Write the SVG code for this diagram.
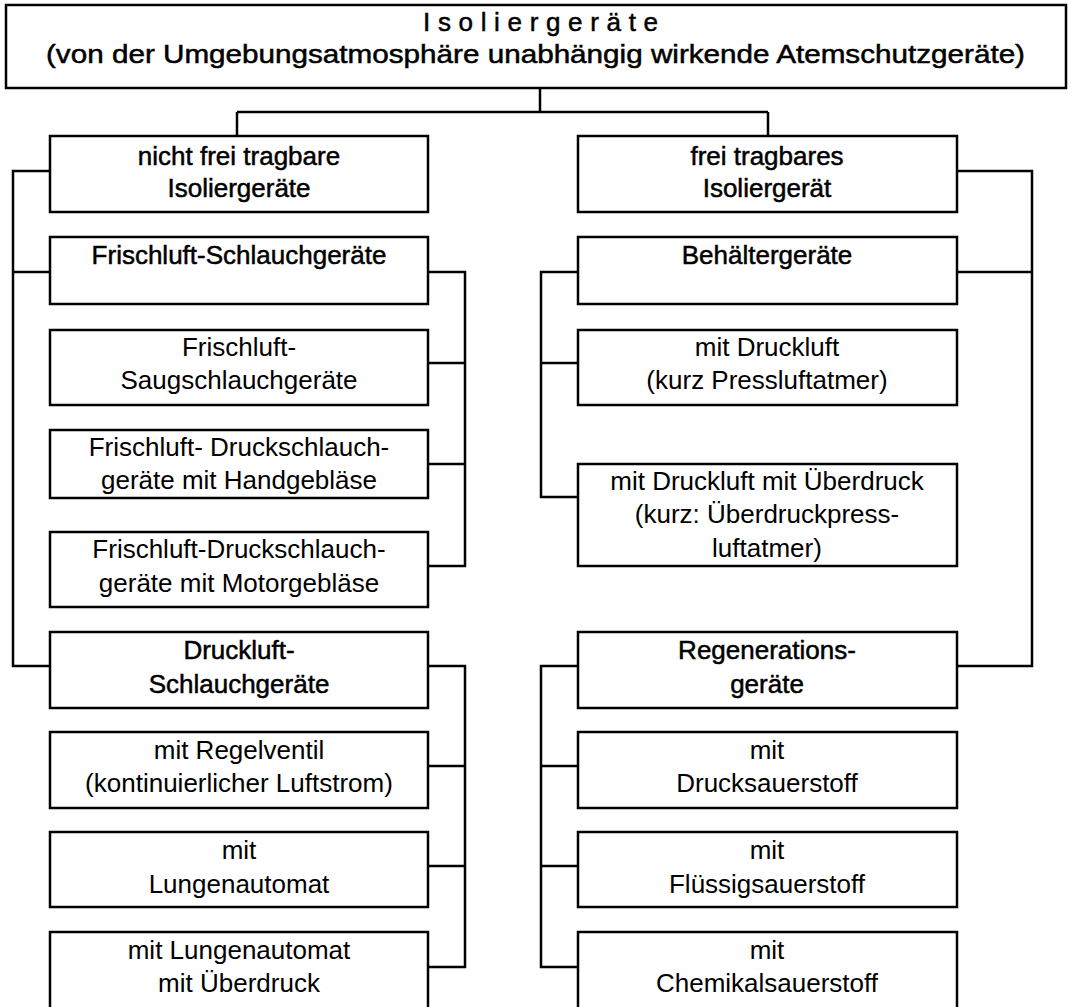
<svg xmlns="http://www.w3.org/2000/svg" width="1071" height="1007" viewBox="0 0 1071 1007">
<style>
rect{fill:#fff;stroke:#000;stroke-width:2.5}
text{font-family:"Liberation Sans",Arial,sans-serif;font-size:26px;fill:#000;text-anchor:middle}
.h{stroke:#000;stroke-width:0.5}
.t1{font-size:26px;stroke:#000;stroke-width:0.5}
.t2{font-size:26px;stroke:#000;stroke-width:0.5}
#connectors path{fill:none;stroke:#000;stroke-width:2.5}
</style>
<rect x="0" y="0" width="1071" height="1007" style="stroke:none"/>
<g id="connectors">
<path d="M540,88 V112 M237,112 H768 M237,112 V136 M768,112 V136"/>
<path d="M50,171 H13 V666 H50 M13,272 H50"/>
<path d="M428,272 H465 V566 H428 M428,363 H465 M428,464 H465"/>
<path d="M428,666 H465 V967 H428 M428,766 H465 M428,866 H465"/>
<path d="M957,171 H1032 V666 H957 M957,272 H1032"/>
<path d="M578,272 H541 V497 H578 M541,363 H578"/>
<path d="M578,666 H541 V967 H578 M541,766 H578 M541,866 H578"/>
</g>
<g id="root">
<rect x="6" y="5" width="1060" height="83"/>
<text class="t1" x="540.5" y="31" textLength="235" lengthAdjust="spacing">I s o l i e r g e r ä t e</text>
<text class="t2" x="535.5" y="63" textLength="979" lengthAdjust="spacingAndGlyphs">(von der Umgebungsatmosphäre unabhängig wirkende Atemschutzgeräte)</text>
</g>
<g id="nicht-frei">
<rect x="50" y="136" width="378" height="76"/>
<text class="h" x="239" y="165">nicht frei tragbare</text>
<text class="h" x="239" y="197">Isoliergeräte</text>
</g>
<g id="frischluft">
<rect x="50" y="237" width="378" height="67"/>
<text class="h" x="239" y="264">Frischluft-Schlauchgeräte</text>
</g>
<g id="saug">
<rect x="50" y="330" width="378" height="75"/>
<text x="239" y="356">Frischluft-</text>
<text x="239" y="389">Saugschlauchgeräte</text>
</g>
<g id="hand">
<rect x="50" y="430" width="378" height="68"/>
<text x="239" y="456">Frischluft- Druckschlauch-</text>
<text x="239" y="489">geräte mit Handgebläse</text>
</g>
<g id="motor">
<rect x="50" y="532" width="378" height="75"/>
<text x="239" y="558">Frischluft-Druckschlauch-</text>
<text x="239" y="592">geräte mit Motorgebläse</text>
</g>
<g id="druckluft-schlauch">
<rect x="50" y="632" width="378" height="76"/>
<text class="h" x="239" y="659">Druckluft-</text>
<text class="h" x="239" y="693">Schlauchgeräte</text>
</g>
<g id="regelventil">
<rect x="50" y="732" width="378" height="76"/>
<text x="239" y="759">mit Regelventil</text>
<text x="239" y="792">(kontinuierlicher Luftstrom)</text>
</g>
<g id="lungenautomat">
<rect x="50" y="832" width="378" height="75"/>
<text x="239" y="859">mit</text>
<text x="239" y="893">Lungenautomat</text>
</g>
<g id="lungenautomat-ueberdruck">
<rect x="50" y="932" width="378" height="80"/>
<text x="239" y="959">mit Lungenautomat</text>
<text x="239" y="992">mit Überdruck</text>
</g>
<g id="frei">
<rect x="578" y="136" width="379" height="76"/>
<text class="h" x="767" y="165">frei tragbares</text>
<text class="h" x="767" y="197">Isoliergerät</text>
</g>
<g id="behaelter">
<rect x="578" y="237" width="379" height="67"/>
<text class="h" x="767" y="264">Behältergeräte</text>
</g>
<g id="pressluft">
<rect x="578" y="330" width="379" height="75"/>
<text x="767" y="356">mit Druckluft</text>
<text x="767" y="389">(kurz Pressluftatmer)</text>
</g>
<g id="ueberdruckpress">
<rect x="578" y="464" width="379" height="102"/>
<text x="767" y="490">mit Druckluft mit Überdruck</text>
<text x="767" y="523">(kurz: Überdruckpress-</text>
<text x="767" y="557">luftatmer)</text>
</g>
<g id="regeneration">
<rect x="578" y="632" width="379" height="76"/>
<text class="h" x="767" y="659">Regenerations-</text>
<text class="h" x="767" y="693">geräte</text>
</g>
<g id="drucksauerstoff">
<rect x="578" y="732" width="379" height="76"/>
<text x="767" y="759">mit</text>
<text x="767" y="792">Drucksauerstoff</text>
</g>
<g id="fluessig">
<rect x="578" y="832" width="379" height="75"/>
<text x="767" y="859">mit</text>
<text x="767" y="893">Flüssigsauerstoff</text>
</g>
<g id="chemikal">
<rect x="578" y="932" width="379" height="80"/>
<text x="767" y="959">mit</text>
<text x="767" y="992">Chemikalsauerstoff</text>
</g>
</svg>
